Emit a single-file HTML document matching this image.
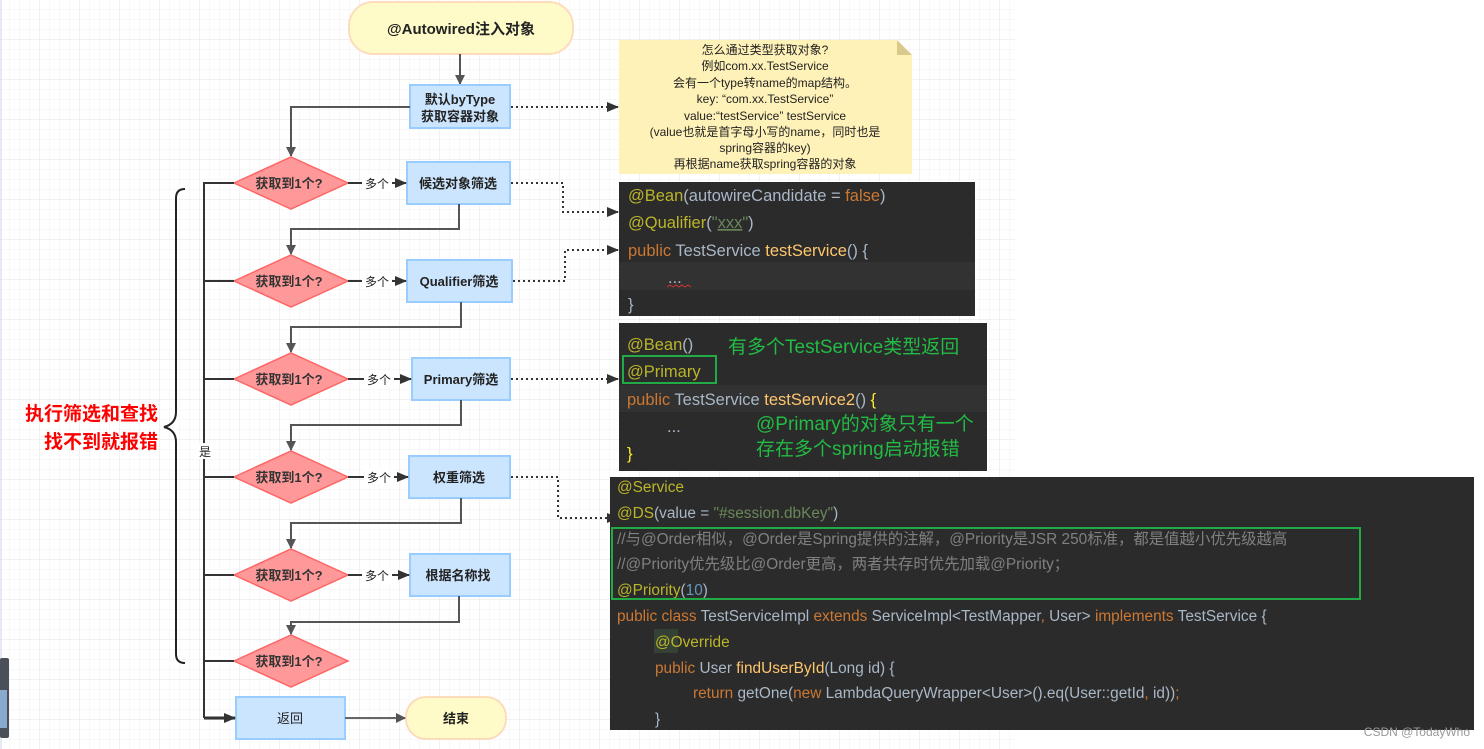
<!DOCTYPE html>
<html><head><meta charset="utf-8"><style>
html,body{margin:0;padding:0;width:1484px;height:749px;overflow:hidden;background:#fff}
svg text{font-family:"Liberation Sans","Noto Sans CJK SC",sans-serif}
.m{font-family:"Liberation Mono","Noto Sans CJK SC",monospace}
</style></head><body>
<svg width="1484" height="749" xmlns="http://www.w3.org/2000/svg">
<defs>
<pattern id="g1" width="10" height="10" patternUnits="userSpaceOnUse"><path d="M10 0V10H0" fill="none" stroke="#f1f1f1" stroke-width="1"/></pattern>
<pattern id="g2" width="40" height="40" patternUnits="userSpaceOnUse"><rect width="40" height="40" fill="url(#g1)"/><path d="M40 0V40H0" fill="none" stroke="#e3e3e3" stroke-width="1"/></pattern>
<marker id="a" markerWidth="10" markerHeight="10" refX="9" refY="5" orient="auto" markerUnits="userSpaceOnUse"><path d="M0 0L10 5L0 10z" fill="#555"/></marker>
<marker id="b" markerWidth="12" markerHeight="10" refX="11" refY="5" orient="auto" markerUnits="userSpaceOnUse"><path d="M0 0L12 5L0 10z" fill="#333"/></marker>
</defs>
<rect x="0" y="0" width="1015" height="749" fill="url(#g2)"/>
<line x1="1" y1="0" x2="1" y2="749" stroke="#cdd6e8"/>
<rect x="0" y="658" width="9" height="80" rx="2" fill="#4a4f5a"/>
<rect x="0" y="690" width="7" height="38" fill="#8ac"/>

<!-- start -->
<rect x="349" y="2" width="224" height="52" rx="24" fill="#fffbc9" stroke="#fddcbc" stroke-width="2"/>
<text x="461" y="34" text-anchor="middle" font-size="15" font-weight="bold" fill="#222">@Autowired注入对象</text>
<line x1="460" y1="54" x2="460" y2="84" stroke="#555" stroke-width="2" marker-end="url(#a)"/>

<!-- box1 -->
<rect x="410" y="85" width="100" height="43" fill="#cce5ff" stroke="#99ccff" stroke-width="2"/>
<text x="460" y="104" text-anchor="middle" font-size="13" font-weight="bold" fill="#222">默认byType</text>
<text x="460" y="121" text-anchor="middle" font-size="13" font-weight="bold" fill="#222">获取容器对象</text>
<polyline points="410,107 291,107 291,156" fill="none" stroke="#555" stroke-width="2" marker-end="url(#a)"/>
<polyline points="511,107 618,107" fill="none" stroke="#333" stroke-width="2" stroke-dasharray="2,3" marker-end="url(#b)"/>

<!-- diamonds -->
<g fill="#ff9999" stroke="#ff6666" stroke-width="1.5">
<polygon points="234,183 291,157 348,183 291,209"/>
<polygon points="234,281 291,255 348,281 291,307"/>
<polygon points="234,379 291,353 348,379 291,405"/>
<polygon points="234,477 291,451 348,477 291,503"/>
<polygon points="234,575 291,549 348,575 291,601"/>
<polygon points="234,661 291,635 348,661 291,687"/>
</g>
<g font-size="13" font-weight="bold" fill="#333" text-anchor="middle">
<text x="289" y="188">获取到1个?</text><text x="289" y="286">获取到1个?</text><text x="289" y="384">获取到1个?</text>
<text x="289" y="482">获取到1个?</text><text x="289" y="580">获取到1个?</text><text x="289" y="666">获取到1个?</text>
</g>

<!-- boxes -->
<g fill="#cce5ff" stroke="#99ccff" stroke-width="2">
<rect x="407" y="162" width="103" height="42"/>
<rect x="407" y="260" width="105" height="42"/>
<rect x="412" y="358" width="98" height="42"/>
<rect x="409" y="456" width="101" height="42"/>
<rect x="410" y="554" width="100" height="42"/>
<rect x="236" y="697" width="109" height="42"/>
</g>
<g font-size="13" font-weight="bold" fill="#222" text-anchor="middle">
<text x="458" y="188">候选对象筛选</text><text x="459" y="286">Qualifier筛选</text><text x="461" y="384">Primary筛选</text>
<text x="459" y="482">权重筛选</text><text x="458" y="580">根据名称找</text>
</g>
<text x="290" y="723" text-anchor="middle" font-size="13" fill="#222">返回</text>
<rect x="406" y="697" width="100" height="42" rx="20" fill="#fffbc9" stroke="#fddcbc" stroke-width="2"/>
<text x="456" y="723" text-anchor="middle" font-size="13" font-weight="bold" fill="#222">结束</text>
<line x1="345" y1="718" x2="405" y2="718" stroke="#666" stroke-width="2" marker-end="url(#a)"/>

<!-- 多个 arrows -->
<g stroke="#333" stroke-width="2" fill="none">
<line x1="348" y1="183" x2="406" y2="183" marker-end="url(#b)"/>
<line x1="348" y1="281" x2="406" y2="281" marker-end="url(#b)"/>
<line x1="348" y1="379" x2="411" y2="379" marker-end="url(#b)"/>
<line x1="348" y1="477" x2="408" y2="477" marker-end="url(#b)"/>
<line x1="348" y1="575" x2="409" y2="575" marker-end="url(#b)"/>
</g>
<g font-size="12" fill="#222" text-anchor="middle">
<rect x="362" y="175" width="30" height="16" fill="#fff"/><text x="377" y="188">多个</text>
<rect x="362" y="273" width="30" height="16" fill="#fff"/><text x="377" y="286">多个</text>
<rect x="364" y="371" width="30" height="16" fill="#fff"/><text x="379" y="384">多个</text>
<rect x="364" y="469" width="30" height="16" fill="#fff"/><text x="379" y="482">多个</text>
<rect x="362" y="567" width="30" height="16" fill="#fff"/><text x="377" y="580">多个</text>
</g>

<!-- down connectors -->
<g stroke="#555" stroke-width="2" fill="none">
<polyline points="459,204 459,229 291,229 291,254" marker-end="url(#a)"/>
<polyline points="461,302 461,327 291,327 291,352" marker-end="url(#a)"/>
<polyline points="461,400 461,425 291,425 291,450" marker-end="url(#a)"/>
<polyline points="461,498 461,523 291,523 291,548" marker-end="url(#a)"/>
<polyline points="459,596 459,622 291,622 291,634" marker-end="url(#a)"/>
</g>

<!-- yes line -->
<g stroke="#333" stroke-width="2" fill="none">
<polyline points="234,183 204,183 204,718"/>
<line x1="234" y1="281" x2="204" y2="281"/><line x1="234" y1="379" x2="204" y2="379"/>
<line x1="234" y1="477" x2="204" y2="477"/><line x1="234" y1="575" x2="204" y2="575"/>
<line x1="234" y1="661" x2="204" y2="661"/>
<line x1="204" y1="718" x2="235" y2="718" stroke-width="3" marker-end="url(#b)"/>
</g>
<rect x="197" y="443" width="16" height="16" fill="#fff"/>
<text x="205" y="456" text-anchor="middle" font-size="12" fill="#222">是</text>

<!-- brace -->
<path d="M185 189 Q176 189 176 198 L176 412 Q176 424 164 427 Q176 430 176 442 L176 654 Q176 663 185 663" fill="none" stroke="#222" stroke-width="2"/>
<text x="158" y="420" text-anchor="end" font-size="19" font-weight="bold" fill="#f00">执行筛选和查找</text>
<text x="158" y="448" text-anchor="end" font-size="19" font-weight="bold" fill="#f00">找不到就报错</text>

<!-- dotted -->
<g stroke="#333" stroke-width="2" fill="none" stroke-dasharray="2,3">
<polyline points="511,183 563,183 563,212 618,212" marker-end="url(#b)"/>
<polyline points="513,281 565,281 565,250 618,250" marker-end="url(#b)"/>
<polyline points="511,379 618,379" marker-end="url(#b)"/>
<polyline points="511,477 558,477 558,518 618,518" marker-end="url(#b)"/>
</g>

<!-- note -->
<path d="M619 40 L897 40 L912 55 L912 174 L619 174 Z" fill="#fff2b8"/>
<path d="M897 40 L897 55 L912 55 Z" fill="#d9c98a"/>
<g font-size="12" fill="#222" text-anchor="middle">
<text x="765" y="54">怎么通过类型获取对象?</text>
<text x="765" y="70">例如com.xx.TestService</text>
<text x="765" y="87">会有一个type转name的map结构。</text>
<text x="765" y="103">key: “com.xx.TestService”</text>
<text x="765" y="120">value:“testService” testService</text>
<text x="765" y="136">(value也就是首字母小写的name，同时也是</text>
<text x="765" y="152">spring容器的key)</text>
<text x="765" y="168">再根据name获取spring容器的对象</text>
</g>

<!-- code1 -->
<rect x="619" y="182" width="356" height="134" fill="#2b2b2b"/>
<rect x="619" y="262" width="356" height="28" fill="#323232"/>
<g class="m" font-size="16.5">
<text x="628" y="201"><tspan fill="#bbb529">@Bean</tspan><tspan fill="#a9b7c6">(autowireCandidate = </tspan><tspan fill="#cc7832">false</tspan><tspan fill="#a9b7c6">)</tspan></text>
<text x="628" y="228"><tspan fill="#bbb529">@Qualifier</tspan><tspan fill="#a9b7c6">(</tspan><tspan fill="#6a8759">"</tspan><tspan fill="#6a8759" text-decoration="underline">xxx</tspan><tspan fill="#6a8759">"</tspan><tspan fill="#a9b7c6">)</tspan></text>
<text x="628" y="256"><tspan fill="#cc7832">public </tspan><tspan fill="#a9b7c6">TestService </tspan><tspan fill="#ffc66d">testService</tspan><tspan fill="#a9b7c6">() {</tspan></text>
<text x="668" y="283" fill="#a9b7c6">...</text>
<text x="628" y="310" fill="#a9b7c6">}</text>
</g>
<path d="M667 287 l3 -2 l3 2 l3 -2 l3 2 l3 -2 l3 2 l3 -2 l3 2" stroke="#c33" fill="none" stroke-width="1"/>

<!-- code2 -->
<rect x="619" y="323" width="368" height="148" fill="#2b2b2b"/>
<rect x="619" y="385" width="368" height="27" fill="#323232"/>
<g class="m" font-size="16.5">
<text x="627" y="350" fill="#bbb529">@Bean<tspan fill="#a9b7c6">()</tspan></text>
<text x="627" y="377" fill="#bbb529">@Primary</text>
<text x="627" y="405"><tspan fill="#cc7832">public </tspan><tspan fill="#a9b7c6">TestService </tspan><tspan fill="#ffc66d">testService2</tspan><tspan fill="#a9b7c6">() </tspan><tspan fill="#ffef28">{</tspan></text>
<text x="667" y="432" fill="#a9b7c6">...</text>
<text x="627" y="459" fill="#ffef28">}</text>
</g>
<rect x="623" y="356" width="93" height="27" fill="none" stroke="#22aa44" stroke-width="2"/>
<g font-size="19" fill="#22bb44">
<text x="728" y="353">有多个TestService类型返回</text>
<text x="756" y="430">@Primary的对象只有一个</text>
<text x="756" y="455">存在多个spring启动报错</text>
</g>

<!-- code3 -->
<rect x="610" y="477" width="864" height="253" fill="#2b2b2b"/>
<g class="m" font-size="15.4">
<text x="617" y="492" fill="#bbb529">@Service</text>
<text x="617" y="518"><tspan fill="#bbb529">@DS</tspan><tspan fill="#a9b7c6">(value = </tspan><tspan fill="#6a8759">"#session.dbKey"</tspan><tspan fill="#a9b7c6">)</tspan></text>
<text x="617" y="544" fill="#808080">//与@Order相似，@Order是Spring提供的注解，@Priority是JSR 250标准，都是值越小优先级越高</text>
<text x="617" y="569" fill="#808080">//@Priority优先级比@Order更高，两者共存时优先加载@Priority；</text>
<text x="617" y="595"><tspan fill="#bbb529">@Priority</tspan><tspan fill="#a9b7c6">(</tspan><tspan fill="#6897bb">10</tspan><tspan fill="#a9b7c6">)</tspan></text>
<text x="617" y="621"><tspan fill="#cc7832">public class </tspan><tspan fill="#a9b7c6">TestServiceImpl </tspan><tspan fill="#cc7832">extends </tspan><tspan fill="#a9b7c6">ServiceImpl&lt;TestMapper</tspan><tspan fill="#cc7832">, </tspan><tspan fill="#a9b7c6">User&gt; </tspan><tspan fill="#cc7832">implements </tspan><tspan fill="#a9b7c6">TestService {</tspan></text>
<rect x="654" y="629" width="24" height="24" fill="#344134"/>
<text x="655" y="647" fill="#bbb529">@Override</text>
<text x="655" y="673"><tspan fill="#cc7832">public </tspan><tspan fill="#a9b7c6">User </tspan><tspan fill="#ffc66d">findUserById</tspan><tspan fill="#a9b7c6">(Long id) {</tspan></text>
<text x="693" y="698"><tspan fill="#cc7832">return </tspan><tspan fill="#a9b7c6">getOne(</tspan><tspan fill="#cc7832">new </tspan><tspan fill="#a9b7c6">LambdaQueryWrapper&lt;User&gt;().eq(User::getId</tspan><tspan fill="#cc7832">, </tspan><tspan fill="#a9b7c6">id))</tspan><tspan fill="#cc7832">;</tspan></text>
<text x="655" y="724" fill="#a9b7c6">}</text>
</g>
<rect x="612" y="528" width="748" height="71" fill="none" stroke="#22aa44" stroke-width="2"/>
<text x="1470" y="736" text-anchor="end" font-size="12" fill="#999">CSDN @TodayWho</text>
</svg>
</body></html>
